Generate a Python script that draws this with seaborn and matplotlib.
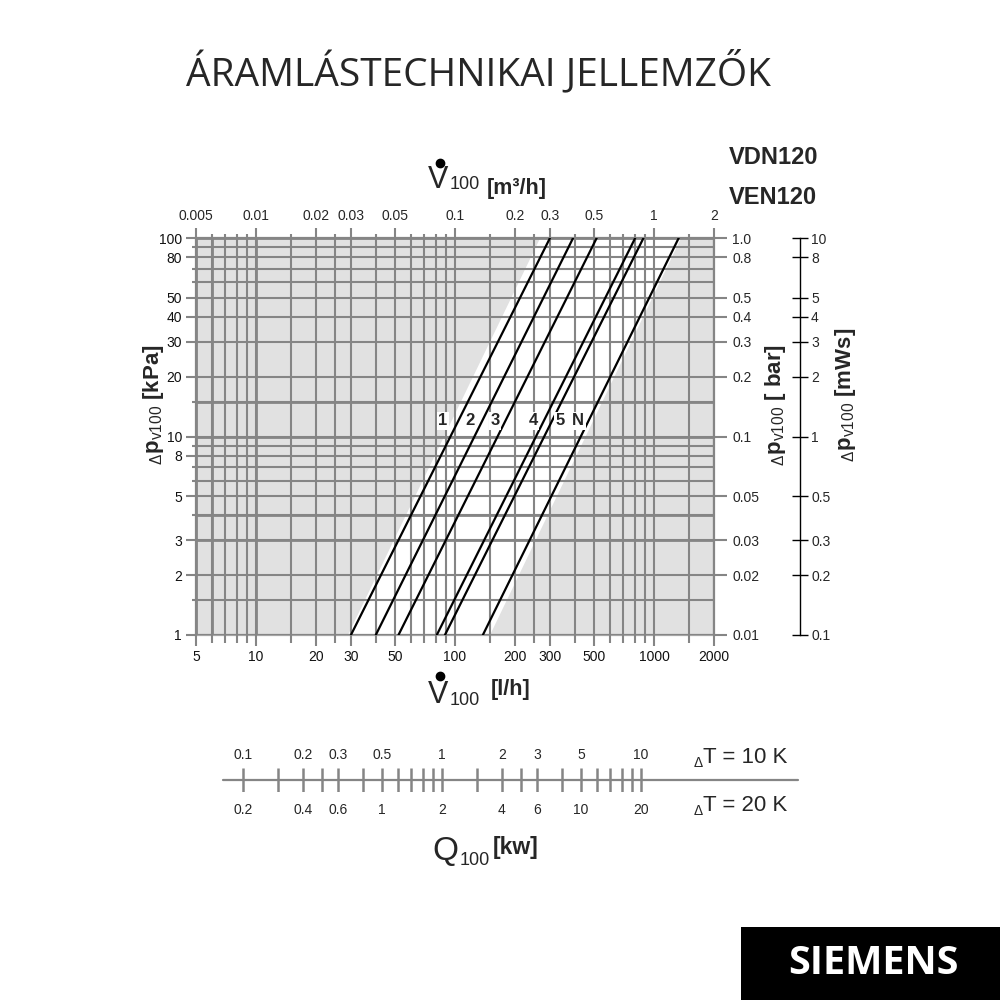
import numpy as np
import pandas as pd
import matplotlib
matplotlib.use('Agg')
import matplotlib.pyplot as plt
import seaborn as sns
from matplotlib.lines import Line2D
from matplotlib.patches import Rectangle
from matplotlib.ticker import FixedLocator, FixedFormatter, NullFormatter

# flow axis: l/h at the bottom, m3/h at the top
flow_lim = [5, 2000]
flow_major = [5, 10, 20, 30, 50, 100, 200, 300, 500, 1000, 2000]
flow_minor = [6, 7, 8, 9, 15, 25, 40, 60, 70, 80, 90, 150, 250, 400, 600, 700, 800, 900, 1500]
flow_labels = ['5', '10', '20', '30', '50', '100', '200', '300', '500', '1000', '2000']
flow_m3h_labels = ['0.005', '0.01', '0.02', '0.03', '0.05', '0.1', '0.2', '0.3', '0.5', '1', '2']

# pressure drop: kPa (left), bar (right), mWs (far right)
dp_lim = [1, 100]
dp_major = [1, 2, 3, 5, 8, 10, 20, 30, 40, 50, 80, 100]
dp_minor = [1.5, 4, 6, 7, 9, 15, 60, 70, 90]
dp_labels = ['1', '2', '3', '5', '8', '10', '20', '30', '40', '50', '80', '100']
bar_ticks = [0.01, 0.02, 0.03, 0.05, 0.1, 0.2, 0.3, 0.4, 0.5, 0.8, 1.0]
bar_labels = ['0.01', '0.02', '0.03', '0.05', '0.1', '0.2', '0.3', '0.4', '0.5', '0.8', '1.0']
mws_ticks = [0.1, 0.2, 0.3, 0.5, 1, 2, 3, 4, 5, 8, 10]
mws_labels = ['0.1', '0.2', '0.3', '0.5', '1', '2', '3', '4', '5', '8', '10']

# valve presetting lines: flow (l/h) read at 1 kPa and at 100 kPa
curve_names = ['1', '2', '3', '4', '5', 'N']
curve_flow_low = [30, 40, 52, 81, 89, 138]
curve_flow_high = [300, 392, 515, 804, 885, 1330]
curve_dp_ends = [1, 100]
label_flow = [87, 119, 159, 247, 337, 416]
label_dp = 12

# white working band, flow (l/h) at 1 kPa and at 100 kPa
band_left = [29, 268]
band_right = [150, 1368]

# heat output scale (kW), dT = 10 K
q_ticks = [0.1, 0.15, 0.2, 0.25, 0.3, 0.4, 0.5, 0.6, 0.7, 0.8, 0.9, 1,
           1.5, 2, 2.5, 3, 4, 5, 6, 7, 8, 9, 10]
q_label_vals = [0.1, 0.2, 0.3, 0.5, 1, 2, 3, 5, 10]
q10_labels = ['0.1', '0.2', '0.3', '0.5', '1', '2', '3', '5', '10']
q20_labels = ['0.2', '0.4', '0.6', '1', '2', '4', '6', '10', '20']
lph_per_kw = 86  # 1 kW at dT = 10 K

# a few grid lines are drawn heavier in the original
dp_heavy = [3, 4, 10, 15, 100]
flow_heavy = [5, 6, 10]

GRID = '#858585'
BG = '#e1e1e1'

sns.set_theme(style='white')
plt.rcParams['font.family'] = ['Liberation Sans', 'DejaVu Sans']
plt.rcParams['mathtext.fontset'] = 'custom'
plt.rcParams['mathtext.rm'] = 'Liberation Sans'
plt.rcParams['mathtext.bf'] = 'Liberation Sans:bold'
plt.rcParams['mathtext.it'] = 'Liberation Sans:italic'

fig = plt.figure(figsize=(10, 10), dpi=100)
ax = fig.add_axes([0.196, 0.365, 0.518, 0.397])
ax.set_xscale('log')
ax.set_yscale('log')
ax.set_xlim(flow_lim)
ax.set_ylim(dp_lim)
ax.set_facecolor(BG)

# white band
ax.fill([band_left[0], band_left[1], band_right[1], band_right[0]],
        [curve_dp_ends[0], curve_dp_ends[1], curve_dp_ends[1], curve_dp_ends[0]],
        color='white', zorder=0.5, lw=0)

ax.xaxis.set_major_locator(FixedLocator(flow_major))
ax.xaxis.set_minor_locator(FixedLocator(flow_minor))
ax.xaxis.set_major_formatter(FixedFormatter(flow_labels))
ax.xaxis.set_minor_formatter(NullFormatter())
ax.yaxis.set_major_locator(FixedLocator(dp_major))
ax.yaxis.set_minor_locator(FixedLocator(dp_minor))
ax.yaxis.set_major_formatter(FixedFormatter(dp_labels))
ax.yaxis.set_minor_formatter(NullFormatter())
ax.grid(True, which='both', color=GRID, lw=1.5)
ax.set_axisbelow(False)
for v in dp_heavy:
    ax.axhline(v, color=GRID, lw=2.0, zorder=2.6)
for v in flow_heavy:
    ax.axvline(v, color=GRID, lw=2.0, zorder=2.6)
ax.tick_params(which='major', direction='out', length=7, width=1.5, color=GRID,
               labelsize=10, labelcolor='#111111', pad=3)
ax.tick_params(axis='y', which='minor', direction='out', length=3, width=1.5, color=GRID)
ax.tick_params(axis='x', which='minor', direction='out', length=6, width=1.5, color=GRID)
ax.tick_params(axis='x', which='major', length=8)
for s in ax.spines.values():
    s.set_color(GRID)
    s.set_linewidth(1.6)
ax.spines['bottom'].set_color('#a5a5a5')

# presetting lines
rows = []
for name, lo, hi in zip(curve_names, curve_flow_low, curve_flow_high):
    rows.append({'curve': name, 'flow': lo, 'dp': curve_dp_ends[0]})
    rows.append({'curve': name, 'flow': hi, 'dp': curve_dp_ends[1]})
df = pd.DataFrame(rows)
sns.lineplot(data=df, x='flow', y='dp', units='curve', estimator=None,
             color='black', lw=1.6, ax=ax, zorder=5)
ax.set_xlabel('')
ax.set_ylabel('')
for name, fx in zip(curve_names, label_flow):
    ax.text(fx, label_dp, name, ha='center', va='center', fontsize=12,
            fontweight='bold', zorder=6,
            bbox=dict(facecolor='white', edgecolor='none', pad=1.2))

# top axis in m3/h
ax_top = ax.twiny()
ax_top.set_xscale('log')
ax_top.set_xlim([v / 1000 for v in flow_lim])
ax_top.xaxis.set_major_locator(FixedLocator([v / 1000 for v in flow_major]))
ax_top.xaxis.set_minor_locator(FixedLocator([v / 1000 for v in flow_minor]))
ax_top.xaxis.set_major_formatter(FixedFormatter(flow_m3h_labels))
ax_top.xaxis.set_minor_formatter(NullFormatter())
ax_top.tick_params(which='major', length=7, width=1.5, color=GRID, labelsize=10, pad=4)
ax_top.tick_params(which='minor', length=3, width=1.5, color=GRID)
for s in ax_top.spines.values():
    s.set_visible(False)

# right axis in bar
ax_bar = ax.twinx()
ax_bar.set_yscale('log')
ax_bar.set_ylim([v / 100 for v in dp_lim])
ax_bar.yaxis.set_major_locator(FixedLocator(bar_ticks))
ax_bar.yaxis.set_major_formatter(FixedFormatter(bar_labels))
ax_bar.yaxis.set_minor_locator(FixedLocator([]))
ax_bar.tick_params(which='major', length=9, width=1.5, color=GRID, labelsize=10, pad=4)
for s in ax_bar.spines.values():
    s.set_visible(False)

# far right axis in mWs
ax_mws = ax.twinx()
ax_mws.set_yscale('log')
ax_mws.set_ylim([v / 10 for v in dp_lim])
ax_mws.spines['right'].set_position(('axes', 1.166))
for k in ['left', 'top', 'bottom']:
    ax_mws.spines[k].set_visible(False)
ax_mws.spines['right'].set_color('black')
ax_mws.spines['right'].set_linewidth(1)
ax_mws.yaxis.set_major_locator(FixedLocator(mws_ticks))
ax_mws.yaxis.set_major_formatter(FixedFormatter(mws_labels))
ax_mws.yaxis.set_minor_locator(FixedLocator([]))
ax_mws.tick_params(which='major', direction='inout', length=12, width=1,
                   color='black', labelsize=10, pad=2)

# axis titles
fig.text(0.153, 0.595, r'${}_{\Delta}\mathbf{p}_{\mathrm{v100}}\ \mathbf{[kPa]}$',
         rotation=90, ha='center', va='center', fontsize=16)
fig.text(0.776, 0.595, r'${}_{\Delta}\mathbf{p}_{\mathrm{v100}}\ \mathbf{[\ bar]}$',
         rotation=90, ha='center', va='center', fontsize=16)
fig.text(0.846, 0.605, r'${}_{\Delta}\mathbf{p}_{\mathrm{v100}}\ \mathbf{[mWs]}$',
         rotation=90, ha='center', va='center', fontsize=16)

def flow_title(base, dot_y, sub_base, unit_x, unit_base, unit):
    fig.text(0.438, base, 'V', ha='center', va='baseline', fontsize=22)
    # the "dot" of V-dot
    fig.add_artist(Line2D([0.4395], [dot_y], marker='o', ms=6, color='black',
                          lw=0, transform=fig.transFigure))
    fig.text(0.450, sub_base, '100', ha='left', va='baseline', fontsize=13)
    fig.text(unit_x, unit_base, unit, ha='left', va='baseline', fontsize=15.5,
             fontweight='bold')

flow_title(0.812, 0.837, 0.811, 0.487, 0.806, '[m\u00b3/h]')
flow_title(0.297, 0.324, 0.295, 0.491, 0.305, '[l/h]')

# heat output scale
q_ax = fig.add_axes([0.196, 0.208, 0.518, 0.024])
q_ax.set_xscale('log')
q_ax.set_xlim([v / lph_per_kw for v in flow_lim])
q_ax.set_ylim(0, 1)
q_ax.axis('off')
q_ax.axhline(0.5, xmin=0.052, xmax=1.162, color=GRID, lw=1.6, clip_on=False)
q_ax.vlines(q_ticks, 0, 1, color=GRID, lw=1.8)
for v, t10, t20 in zip(q_label_vals, q10_labels, q20_labels):
    q_ax.text(v, 1.55, t10, ha='center', va='center', fontsize=10)
    q_ax.text(v, -0.75, t20, ha='center', va='center', fontsize=10)

fig.text(0.698, 0.233, '\u0394', ha='center', va='baseline', fontsize=10)
fig.text(0.703, 0.237, 'T = 10 K', ha='left', va='baseline', fontsize=16)
fig.text(0.698, 0.185, '\u0394', ha='center', va='baseline', fontsize=10)
fig.text(0.703, 0.189, 'T = 20 K', ha='left', va='baseline', fontsize=16)

fig.text(0.445, 0.140, 'Q', ha='center', va='baseline', fontsize=24)
fig.text(0.460, 0.135, '100', ha='left', va='baseline', fontsize=13)
fig.text(0.493, 0.146, '[kw]', ha='left', va='baseline', fontsize=16.5, fontweight='bold')

# headers
fig.text(0.478, 0.927, 'ÁRAMLÁSTECHNIKAI JELLEMZŐK', ha='center', va='center',
         fontsize=28, family='Open Sans')
fig.text(0.729, 0.843, 'VDN120', ha='left', va='center', fontsize=17, fontweight='bold')
fig.text(0.729, 0.803, 'VEN120', ha='left', va='center', fontsize=17, fontweight='bold')

fig.patches.append(Rectangle((0.741, 0.0), 0.259, 0.073, transform=fig.transFigure,
                             facecolor='black', edgecolor='none'))
fig.text(0.873, 0.037, 'SIEMENS', ha='center', va='center', fontsize=28.5,
         fontweight='bold', color='white', family='Open Sans')

fig.savefig('out.png', dpi=100)
